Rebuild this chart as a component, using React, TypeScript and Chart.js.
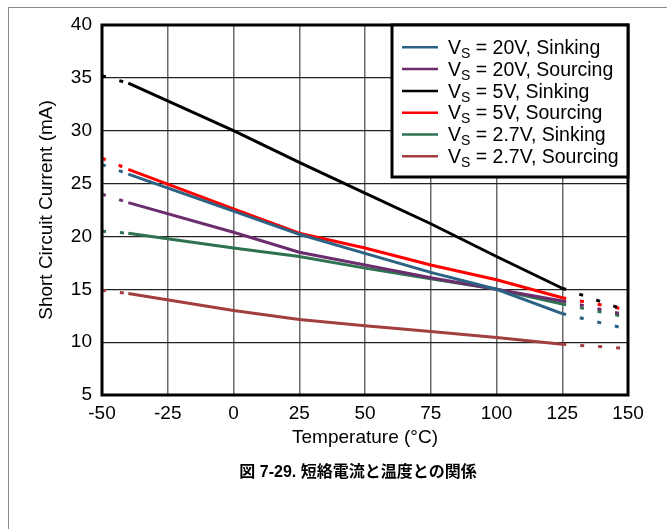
import React, { useEffect, useRef } from 'react';
import { Chart, registerables } from 'chart.js';

Chart.register(...registerables);

// ---- data ----
const temperatures = [-50, -40, 0, 25, 50, 75, 100, 125, 147];
const vs20Sinking = [26.8, 25.9, 22.4, 20.2, 18.4, 16.6, 15.0, 12.7, 11.4];
const vs20Sourcing = [24.0, 23.2, 20.4, 18.5, 17.3, 16.1, 15.0, 13.9, 12.7];
const vs5Sinking = [35.2, 34.5, 30.0, 27.0, 24.1, 21.2, 18.1, 15.1, 13.2];
const vs5Sourcing = [27.4, 26.35, 22.6, 20.3, 18.9, 17.3, 15.9, 14.2, 13.2];
const vs27Sinking = [20.5, 20.3, 18.9, 18.1, 17.0, 16.0, 15.0, 13.6, 12.5];
const vs27Sourcing = [14.9, 14.6, 13.0, 12.15, 11.55, 11.0, 10.45, 9.8, 9.45];

const seriesLabels = [
  ' = 20V, Sinking',
  ' = 20V, Sourcing',
  ' = 5V, Sinking',
  ' = 5V, Sourcing',
  ' = 2.7V, Sinking',
  ' = 2.7V, Sourcing',
];
const seriesColors = ['#2C6283', '#6B2D6E', '#000000', '#FF0000', '#2E7252', '#A23E3E'];
const seriesValues = [vs20Sinking, vs20Sourcing, vs5Sinking, vs5Sourcing, vs27Sinking, vs27Sourcing];

const xTicks = [-50, -25, 0, 25, 50, 75, 100, 125, 150];
const yTicks = [5, 10, 15, 20, 25, 30, 35, 40];

const xTitle = 'Temperature (°C)';
const yTitle = 'Short Circuit Current (mA)';
const caption = '図 7-29. 短絡電流と温度との関係';

const FONT = '"Liberation Sans", Arial, sans-serif';

const framePlugin = {
  id: 'frame',
  afterDatasetsDraw(chart: any) {
    const { ctx, chartArea } = chart;
    ctx.save();
    ctx.strokeStyle = '#000';
    ctx.lineWidth = 3;
    ctx.strokeRect(chartArea.left, chartArea.top, chartArea.right - chartArea.left, chartArea.bottom - chartArea.top);
    ctx.restore();
  },
};

const legendPlugin = {
  id: 'vsLegend',
  afterDraw(chart: any) {
    const { ctx, chartArea } = chart;
    const boxW = 236;
    const boxH = 152;
    const x0 = chartArea.right - boxW;
    const y0 = chartArea.top;
    ctx.save();
    ctx.fillStyle = '#fff';
    ctx.fillRect(x0, y0, boxW, boxH);
    ctx.lineWidth = 3;
    ctx.strokeStyle = '#000';
    ctx.strokeRect(x0, y0, boxW, boxH);
    chart.data.datasets.forEach((ds: any, i: number) => {
      const cy = y0 + 22.3 + i * 21.8;
      ctx.strokeStyle = ds.borderColor;
      ctx.lineWidth = 2.5;
      ctx.setLineDash([]);
      ctx.beginPath();
      ctx.moveTo(x0 + 10, cy);
      ctx.lineTo(x0 + 46, cy);
      ctx.stroke();
      ctx.fillStyle = '#000';
      ctx.textBaseline = 'alphabetic';
      ctx.textAlign = 'left';
      let tx = x0 + 56;
      const base = cy + 6.6;
      ctx.font = '19.5px ' + FONT;
      ctx.fillText('V', tx, base);
      tx += ctx.measureText('V').width;
      ctx.font = '14px ' + FONT;
      ctx.fillText('S', tx, base + 4);
      tx += ctx.measureText('S').width;
      ctx.font = '19.5px ' + FONT;
      ctx.fillText(seriesLabels[i], tx, base);
    });
    ctx.restore();
  },
};

const captionPlugin = {
  id: 'caption',
  afterDraw(chart: any) {
    const { ctx, chartArea } = chart;
    ctx.save();
    ctx.font = 'bold 16px ' + FONT + ', "Noto Sans CJK JP"';
    ctx.fillStyle = '#000';
    ctx.textAlign = 'center';
    ctx.textBaseline = 'middle';
    ctx.fillText(caption, (chartArea.left + chartArea.right) / 2 - 7, chartArea.bottom + 78);
    ctx.restore();
  },
};

export default function App() {
  const ref = useRef<HTMLCanvasElement | null>(null);

  useEffect(() => {
    if (!ref.current) return;
    const datasets = seriesValues.map((vals, i) => ({
      label: seriesLabels[i],
      data: temperatures.map((t, j) => ({ x: t, y: vals[j] })),
      borderColor: seriesColors[i],
      backgroundColor: seriesColors[i],
      borderWidth: 3,
      pointRadius: 0,
      tension: 0,
      fill: false,
      segment: {
        borderDash: (c: any) =>
          c.p1.parsed.x <= -40 || c.p0.parsed.x >= 125 ? [4, 14] : undefined,
      },
    }));
    const chart = new Chart(ref.current, {
      type: 'line',
      data: { datasets },
      plugins: [framePlugin, legendPlugin, captionPlugin],
      options: {
        animation: false,
        responsive: false,
        devicePixelRatio: 1,
        layout: { padding: { left: 20, right: 39, top: 17, bottom: 80 } },
        plugins: { legend: { display: false }, tooltip: { enabled: false }, title: { display: false } },
        scales: {
          x: {
            type: 'linear',
            min: -50,
            max: 150,
            afterBuildTicks: (s: any) => {
              s.ticks = xTicks.map((v) => ({ value: v }));
            },
            afterFit: (s: any) => {
              s.height = 54;
              s.paddingLeft = 0;
              s.paddingRight = 0;
            },
            ticks: {
              padding: 7,
              color: '#000',
              maxRotation: 0,
              autoSkip: false,
              font: { family: FONT, size: 19 },
              callback: (v: any) => String(v),
            },
            grid: { color: '#6a6a6a', lineWidth: 1.5, drawTicks: false },
            border: { display: false },
            title: {
              display: true,
              text: xTitle,
              color: '#000',
              font: { family: FONT, size: 19 },
              padding: { top: 0, bottom: 0 },
            },
          },
          y: {
            type: 'linear',
            min: 5,
            max: 40,
            afterBuildTicks: (s: any) => {
              s.ticks = yTicks.map((v) => ({ value: v }));
            },
            afterFit: (s: any) => {
              s.width = 73;
              s.paddingTop = 0;
              s.paddingBottom = 0;
            },
            ticks: {
              padding: 10,
              color: '#000',
              font: { family: FONT, size: 19 },
              callback: (v: any) => String(v),
            },
            grid: { color: '#222', lineWidth: 1.2, drawTicks: false },
            border: { display: false },
            title: {
              display: true,
              text: yTitle,
              color: '#000',
              font: { family: FONT, size: 19 },
              padding: { top: 6, bottom: 0 },
            },
          },
        },
      },
    } as any);
    return () => chart.destroy();
  }, []);

  return (
    <div
      style={{
        position: 'fixed',
        left: 8,
        top: 7,
        width: 658,
        height: 521,
        borderTop: '1px solid #8a8a8a',
        borderLeft: '1px solid #8a8a8a',
        background: '#fff',
      }}
    >
      <canvas ref={ref} width={658} height={521} style={{ display: 'block', width: 658, height: 521 }} />
    </div>
  );
}
